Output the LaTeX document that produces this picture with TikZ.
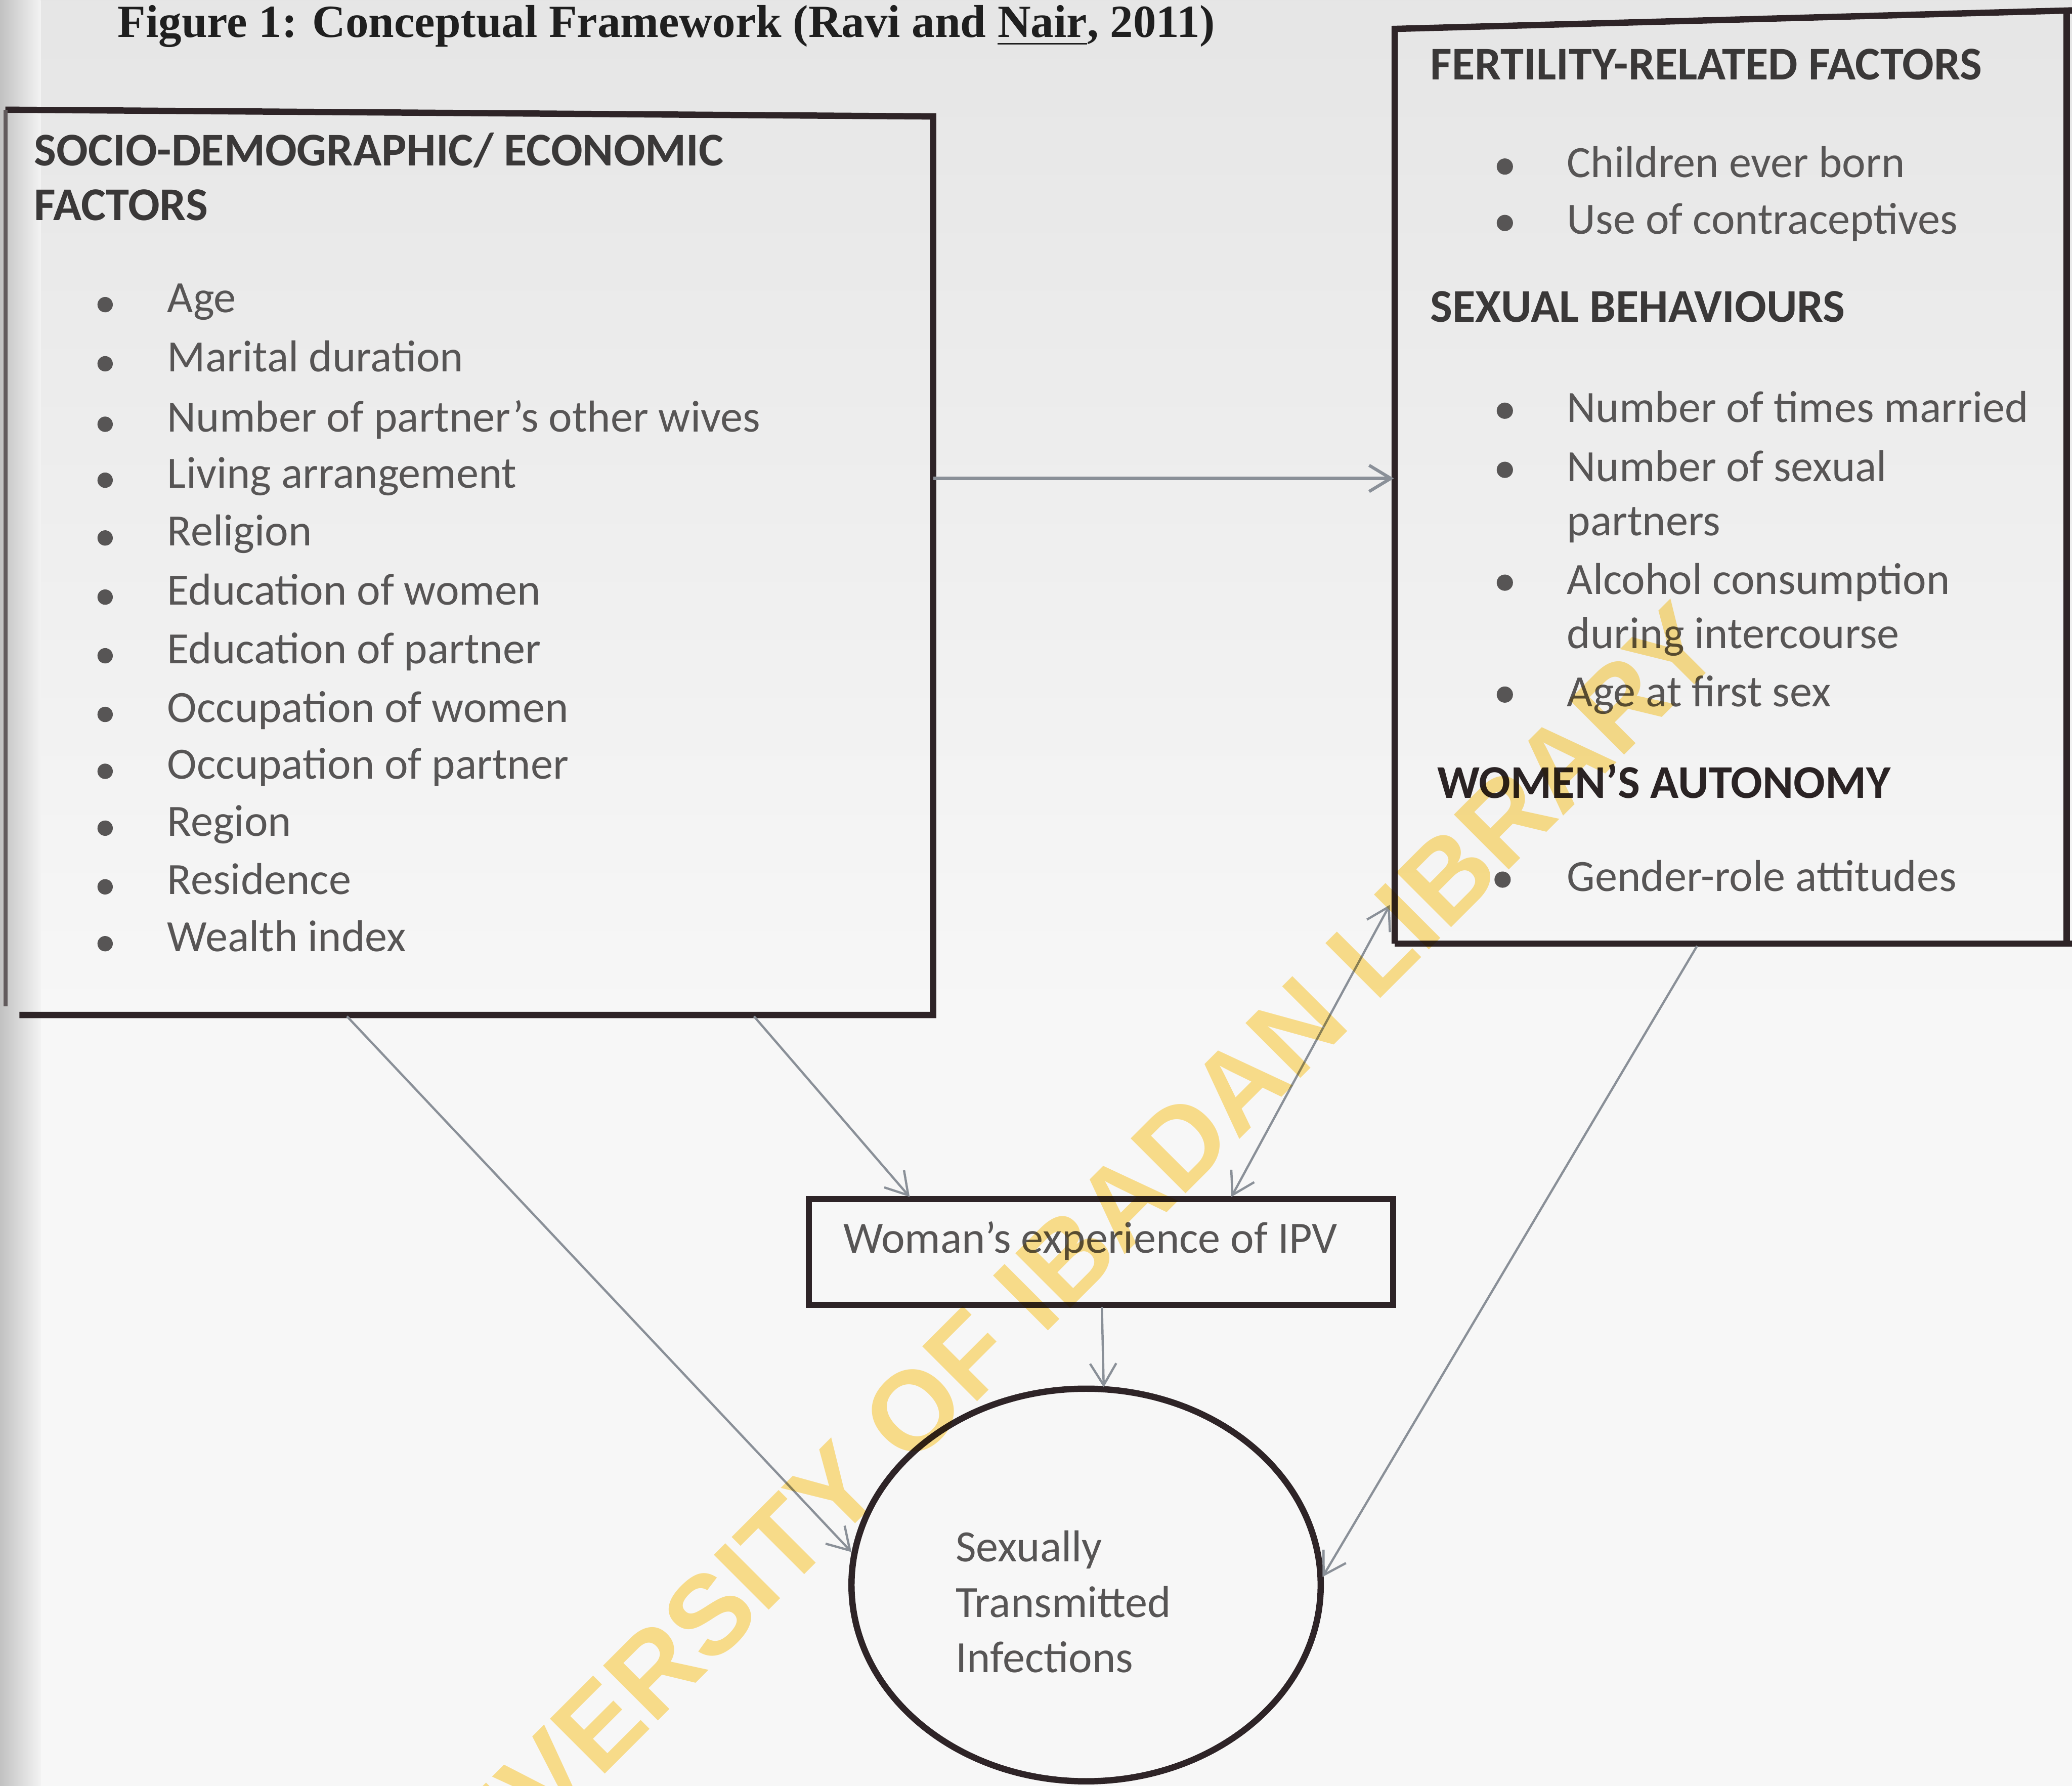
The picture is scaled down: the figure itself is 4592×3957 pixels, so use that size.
\documentclass[tikz,border=0pt]{standalone}
\usepackage{fontspec}
\setmainfont{Carlito}
\newfontfamily\titlefont{Liberation Serif}
\newfontfamily\wmfont{Liberation Sans}
\usetikzlibrary{arrows.meta,shapes.geometric}

\definecolor{ink}{HTML}{2E2427}
\definecolor{txt}{HTML}{575555}
\definecolor{head}{HTML}{3A3838}
\definecolor{headdark}{HTML}{2A2324}
\definecolor{connc}{HTML}{8A9098}
\definecolor{wmc}{HTML}{FFE38E}

\begin{document}
\begin{tikzpicture}[x=0.1pt,y=-0.1pt,
  boxline/.style={draw=ink,line width=1.4pt},
  body/.style={anchor=base west,inner sep=0pt,text=txt,font=\fontsize{9.9pt}{11pt}\selectfont},
  headtxt/.style={anchor=base west,inner sep=0pt,text=head,font=\fontsize{10.4pt}{12pt}\selectfont\bfseries},
  conn/.style={draw=connc,line width=0.5pt,-{Straight Barb[length=4.8pt,width=5.8pt]}},
  bul/.style={fill=txt}]
\useasboundingbox (0,0) rectangle (4592,3957);
\begin{scope}
\clip (0,0) rectangle (4592,3957);
% background (scanned page)
\fill[black!3] (0,0) rectangle (4592,3957);
\shade[top color=black!10, bottom color=black!3] (0,0) rectangle (4592,2300);
\shade[left color=black!24, right color=black!5] (0,0) rectangle (90,3957);

% title
\node[anchor=base west,inner sep=0pt,text=black!88,font=\titlefont\fontsize{10.2pt}{12pt}\selectfont\bfseries] (title) at (259,82) {Figure 1: Conceptual Framework (Ravi and \underline{Nair}, 2011)};

% ---------- left box ----------
\node[minimum width=205.6pt,minimum height=200.4pt,inner sep=0pt] (L) at (1040,1248) {};
\draw[boxline] (43,2249) -- (2068,2249) -- (2068,258) -- (12,243);
\draw[draw=ink!75,line width=0.9pt] (12,243) -- (12,2230);

\node[headtxt] (lh1) at (74,367) {SOCIO-DEMOGRAPHIC/ ECONOMIC};
\node[headtxt] (lh2) at (74,488) {FACTORS};
\foreach \t/\yy [count=\i] in {Age/692, Marital duration/823, Number of partner's other wives/957, Living arrangement/1081, Religion/1209, Education of women/1340, Education of partner/1470, Occupation of women/1600, Occupation of partner/1726, Region/1852, Residence/1982, Wealth index/2108}{
  \node[body] (li\i) at (369,\yy) {\t};
  \fill[bul] (233,\yy-17) circle[radius=17];
}

% ---------- right box ----------
\node[minimum width=148.9pt,minimum height=204pt,inner sep=0pt] (R) at (3836,1071) {};
\draw[boxline] (3091,2091) -- (4592,2091);
\draw[boxline] (3091,2091) -- (3091,64) -- (4592,23);
\draw[boxline] (4580,26) -- (4580,2091);

\node[headtxt] (rh1) at (3168,176) {FERTILITY-RELATED FACTORS};
\node[body] (r1) at (3471,393) {Children ever born};
\node[body] (r2) at (3471,518) {Use of contraceptives};
\fill[bul] (3335,393-24) circle[radius=18];
\fill[bul] (3335,518-24) circle[radius=18];

\node[headtxt] (rh2) at (3168,714) {SEXUAL BEHAVIOURS};
\node[body] (r3) at (3471,936) {Number of times married};
\node[body] (r4) at (3471,1067) {Number of sexual};
\node[body] (r5) at (3471,1187) {partners};
\node[body] (r6) at (3471,1317) {Alcohol consumption};
\node[body] (r7) at (3471,1437) {during intercourse};
\node[body] (r8) at (3471,1565) {Age at first sex};
\foreach \yy in {936,1067,1317,1565}{\fill[bul] (3335,\yy-26) circle[radius=18];}

\node[headtxt,text=headdark] (rh3) at (3183,1769) {WOMEN’S AUTONOMY};
\node[body] (r9) at (3471,1975) {Gender-role attitudes};
\fill[bul] (3330,1975-26) circle[radius=18];

% ---------- IPV box ----------
\node[boxline,rectangle,minimum width=129.5pt,minimum height=23.4pt,inner sep=0pt] (ipv) at (2440,2774) {};
\node[body] (ipvtxt) at (1867,2776) {Woman’s experience of IPV};

% ---------- STI ellipse ----------
\node[boxline,ellipse,minimum width=104pt,minimum height=87pt,inner sep=0pt] (sti) at (2407,3512) {};
\node[body] (sti1) at (2116,3460) {Sexually};
\node[body] (sti2) at (2116,3584) {Transmitted};
\node[body] (sti3) at (2116,3706) {Infections};

% ---------- connector end points ----------
\coordinate (Lr) at (2068,1060);
\coordinate (Rl) at (3089,1060);
\coordinate (Lb1) at (769,2252);
\coordinate (Lb2) at (1671,2252);
\coordinate (ipvA) at (2016,2652);
\coordinate (ipvB) at (2729,2652);
\coordinate (Rc) at (3080,2005);
\coordinate (Rb) at (3761,2096);
\coordinate (ipvS) at (2442,2896);
\coordinate (stiL) at (1887,3439);
\coordinate (stiR) at (2931,3494);
\coordinate (stiT) at (2446,3074);

\draw[conn,line width=0.7pt] (Lr) -- (Rl);
\draw[conn] (Lb2) -- (ipvA);
\draw[conn] (Lb1) -- (stiL);
\draw[draw=connc,line width=0.5pt,{Straight Barb[length=4.8pt,width=5.8pt]}-{Straight Barb[length=4.8pt,width=5.8pt]}] (ipvB) -- (Rc);
\draw[conn] (ipvS) -- (stiT);
\draw[conn] (Rb) -- (stiR);

% ---------- watermark ----------
\begin{scope}[blend mode=multiply]
\node[rotate=45,inner sep=0pt,text=wmc,font=\wmfont\fontsize{25pt}{30pt}\selectfont\bfseries] (wmark) at (2306,2844) {UNIVERSITY OF IBADAN LIBRARY};
\end{scope}
\end{scope}
\end{tikzpicture}
\end{document}
